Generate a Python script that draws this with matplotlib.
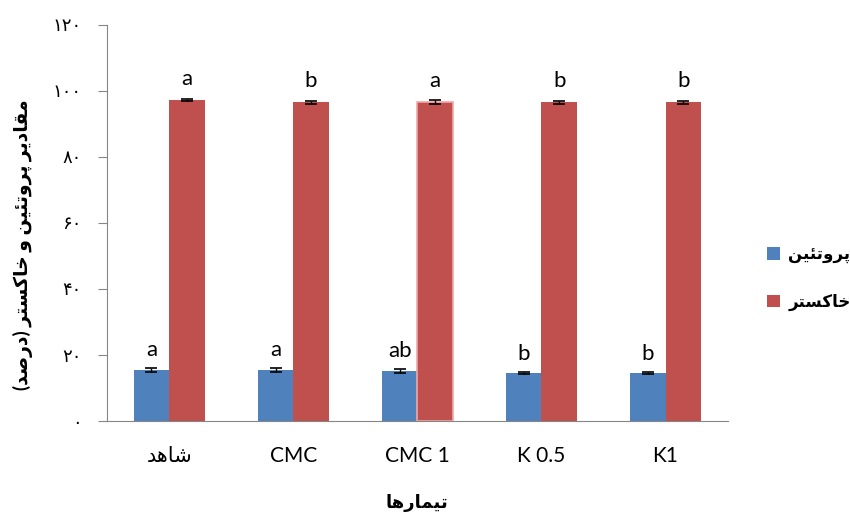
"""Protein and ash content per treatment, grouped bar chart with significance letters."""

import numpy as np
from matplotlib import pyplot as plt
from matplotlib.ticker import FuncFormatter

treatments = ["شاهد", "CMC", "CMC 1", "K 0.5", "K1"]
protein = [15.5, 15.5, 15.2, 14.6, 14.6]
protein_err = [0.5, 0.5, 0.5, 0.3, 0.3]
protein_letters = ["a", "a", "ab", "b", "b"]
ash = [97.2, 96.5, 96.6, 96.5, 96.5]
ash_err = [0.4, 0.4, 0.5, 0.4, 0.4]
ash_letters = ["a", "b", "a", "b", "b"]
series_names = ["پروتئین", "خاکستر"]
x_title = "تیمارها"
y_title = "مقادیر پروتئین و خاکستر (درصد)"

BLUE = "#4F81BD"
RED = "#C0504D"
GREY = "#868686"

# matplotlib has no Arabic shaping, so map letters to presentation forms by hand
FORMS = {
    "ا": (0xFE8D, 0xFE8E),
    "د": (0xFEA9, 0xFEAA),
    "ر": (0xFEAD, 0xFEAE),
    "و": (0xFEED, 0xFEEE),
    "م": (0xFEE1, 0xFEE2, 0xFEE3, 0xFEE4),
    "ق": (0xFED5, 0xFED6, 0xFED7, 0xFED8),
    "ی": (0xFEEF, 0xFEF0, 0xFEF3, 0xFEF4),
    "پ": (0xFB56, 0xFB57, 0xFB58, 0xFB59),
    "ت": (0xFE95, 0xFE96, 0xFE97, 0xFE98),
    "ئ": (0xFE89, 0xFE8A, 0xFE8B, 0xFE8C),
    "ن": (0xFEE5, 0xFEE6, 0xFEE7, 0xFEE8),
    "خ": (0xFEA5, 0xFEA6, 0xFEA7, 0xFEA8),
    "ک": (0xFB8E, 0xFB8F, 0xFB90, 0xFB91),
    "س": (0xFEB1, 0xFEB2, 0xFEB3, 0xFEB4),
    "ه": (0xFEE9, 0xFEEA, 0xFEEB, 0xFEEC),
    "ش": (0xFEB5, 0xFEB6, 0xFEB7, 0xFEB8),
    "ص": (0xFEB9, 0xFEBA, 0xFEBB, 0xFEBC),
}


def shape(text: str) -> str:
    """Return visually ordered, joined Persian text."""
    if not any(ch in FORMS for ch in text):
        return text
    out = []
    for i, ch in enumerate(text):
        forms = FORMS.get(ch)
        if forms is None:
            out.append(ch)
            continue
        prev = text[i - 1] if i > 0 else ""
        nxt = text[i + 1] if i + 1 < len(text) else ""
        join_prev = prev in FORMS and len(FORMS[prev]) == 4
        join_next = len(forms) == 4 and nxt in FORMS
        if join_prev and join_next:
            code = forms[3]
        elif join_prev:
            code = forms[1]
        elif join_next:
            code = forms[2]
        else:
            code = forms[0]
        out.append(chr(code))
    return "".join(out)[::-1].translate(str.maketrans("()", ")("))


def persian_digits(value, _pos):
    return str(int(round(value))).translate(str.maketrans("0123456789", "۰۱۲۳۴۵۶۷۸۹"))


plt.rcParams["font.family"] = ["Lato", "DejaVu Sans"]

fig = plt.figure(figsize=(8.5, 5.16), dpi=100)
ax = fig.add_axes([0.126, 0.184, 0.73, 0.768])

x = np.arange(len(treatments))
width = 0.285
err_style = dict(ecolor="black", capsize=4.5, elinewidth=1, capthick=1.2)
ax.bar(x - width / 2, protein, width, color=BLUE, yerr=protein_err,
       error_kw=err_style, label=shape(series_names[0]))
red_bars = ax.bar(x + width / 2, ash, width, color=RED, yerr=ash_err,
                  error_kw=err_style, label=shape(series_names[1]))
# the CMC 1 ash bar carries a light pink outline in the original
red_bars[2].set_edgecolor("#F0A8A8")
red_bars[2].set_linewidth(1.2)

for xi, val, err, letter in zip(x - width / 2, protein, protein_err, protein_letters):
    ax.annotate(letter, (xi, val + err), xytext=(0, 6), textcoords="offset points",
                ha="center", va="bottom", fontsize=16)
for xi, val, err, letter in zip(x + width / 2, ash, ash_err, ash_letters):
    ax.annotate(letter, (xi, val + err), xytext=(0, 7), textcoords="offset points",
                ha="center", va="bottom", fontsize=16)

ax.set_xlim(-0.5, len(treatments) - 0.5)
ax.set_ylim(0, 120)
ax.set_yticks(np.arange(0, 121, 20))
ax.yaxis.set_major_formatter(FuncFormatter(persian_digits))
ax.set_xticks(x)
ax.set_xticklabels([shape(t) for t in treatments], fontsize=15)

ax.tick_params(axis="x", length=0, pad=18)
ax.tick_params(axis="y", direction="out", length=6.5, color=GREY, pad=12, labelsize=13)
for side in ("top", "right"):
    ax.spines[side].set_visible(False)
for side in ("left", "bottom"):
    ax.spines[side].set_color(GREY)

ax.set_xlabel(shape(x_title), fontsize=13, fontweight="bold", labelpad=20)
ax.set_ylabel(shape(y_title), fontsize=13.5, fontweight="bold")
ax.yaxis.set_label_coords(-0.119, 0.444)

ax.legend(loc="center left", bbox_to_anchor=(0.902, 0.46), bbox_transform=fig.transFigure,
          frameon=False, handlelength=0.8, handleheight=0.8, labelspacing=1.8,
          handletextpad=0.5, borderaxespad=0, borderpad=0,
          prop=dict(size=12, weight="bold"))

fig.savefig("out.png", dpi=100)
